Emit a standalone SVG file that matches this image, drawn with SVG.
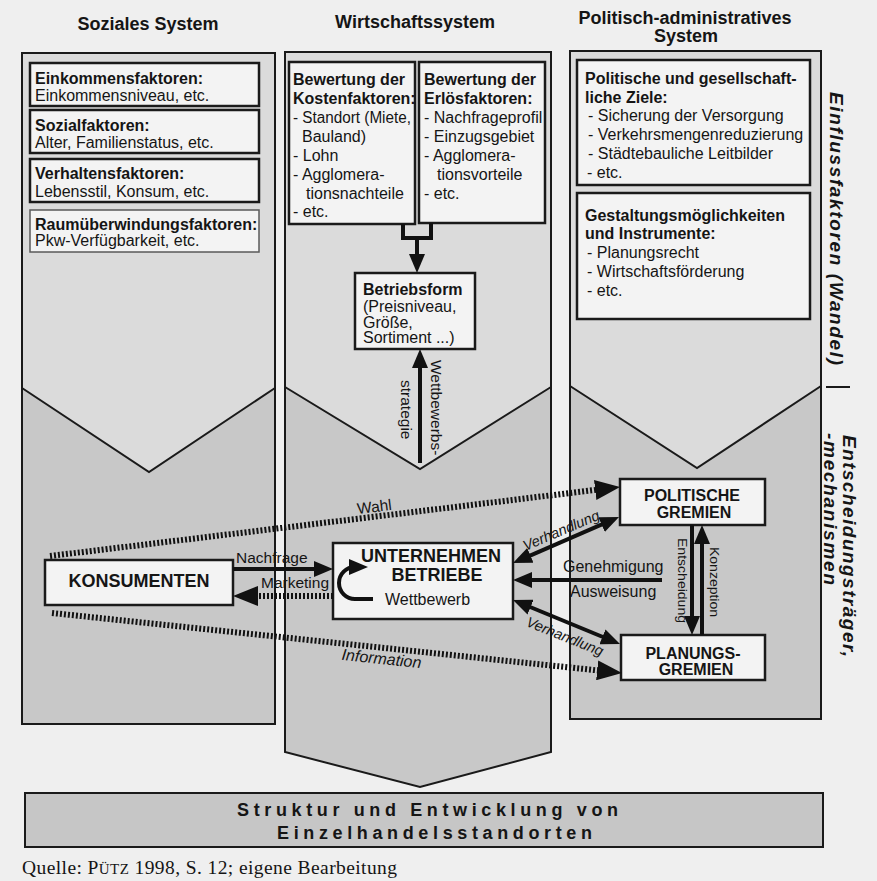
<svg xmlns="http://www.w3.org/2000/svg" width="877" height="881" viewBox="0 0 877 881">
<style>
  text{font-family:"Liberation Sans",Arial,Helvetica,sans-serif;fill:#151515}
  .t{font-size:16px}
  .b{font-weight:bold}
  .h{font-size:18px;font-weight:bold}
  .cap{font-size:16px;font-weight:bold}
  .lab{font-size:15.5px}
  .it{font-style:italic}
  .sm{font-size:13px}
  .side{font-size:19px;font-weight:bold;font-style:italic}
  text.src{font-family:"Liberation Serif","Times New Roman",serif;font-size:19.5px}
  .lo{fill:#c8c8c8}
  .up{fill:#dbdbdb}
  .edge{fill:none;stroke:#1a1a1a;stroke-width:2}
  .box{fill:#f3f3f3;stroke:#1a1a1a;stroke-width:2.5}
  .box2{fill:#f3f3f3;stroke:#5a5a5a;stroke-width:1.5}
  .sol{fill:none;stroke:#111;stroke-width:4}
  .dot{fill:none;stroke:#111;stroke-width:6;stroke-dasharray:2 2}
</style>
<defs>
  <marker id="ah" markerUnits="userSpaceOnUse" markerWidth="20" markerHeight="16" refX="11" refY="8" orient="auto-start-reverse">
    <path d="M0,0 L19,8 L0,16 z" fill="#111"/>
  </marker>
  <marker id="ahd" markerUnits="userSpaceOnUse" markerWidth="26" markerHeight="20" refX="13" refY="10" orient="auto-start-reverse">
    <path d="M0,0 L25,10 L0,20 z" fill="#111"/>
  </marker>
</defs>

<rect x="0" y="0" width="877" height="881" fill="#efefef"/>

<!-- Column: Soziales System -->
<g id="col-sozial">
  <text class="h" x="148" y="30" text-anchor="middle">Soziales System</text>
  <rect class="lo" x="22" y="53" width="253" height="671"/>
  <polygon class="up" points="22,53 275,53 275,388 149,472 22,388"/>
  <polyline class="edge" points="22,388 149,472 275,388"/>
  <rect class="edge" x="22" y="53" width="253" height="671"/>
</g>

<!-- Column: Wirtschaftssystem -->
<g id="col-wirtschaft">
  <text class="h" x="415" y="28" text-anchor="middle">Wirtschaftssystem</text>
  <polygon class="lo" points="285,52 551,52 551,752 420,787 285,752"/>
  <polygon class="up" points="285,52 551,52 551,387 420,469 285,387"/>
  <polyline class="edge" points="285,387 420,469 551,387"/>
  <polygon class="edge" points="285,52 551,52 551,752 420,787 285,752"/>
</g>

<!-- Column: Politisch-administratives System -->
<g id="col-politik">
  <text class="h" x="685" y="23.5" font-size="17.5" text-anchor="middle">Politisch-administratives</text>
  <text class="h" x="686" y="42" font-size="17.5" text-anchor="middle">System</text>
  <rect class="lo" x="570" y="51" width="251" height="668"/>
  <polygon class="up" points="570,51 821,51 821,386 697,468 570,386"/>
  <polyline class="edge" points="570,386 697,468 821,386"/>
  <rect class="edge" x="570" y="51" width="251" height="668"/>
</g>

<!-- Left column factor boxes -->
<g id="einkommen">
  <rect class="box" x="30" y="63" width="229" height="43"/>
  <text class="t b" x="35" y="84">Einkommensfaktoren:</text>
  <text class="t" x="35" y="101">Einkommensniveau, etc.</text>
</g>
<g id="sozial">
  <rect class="box" x="30" y="110" width="229" height="43"/>
  <text class="t b" x="35" y="131">Sozialfaktoren:</text>
  <text class="t" x="35" y="148">Alter, Familienstatus, etc.</text>
</g>
<g id="verhalten">
  <rect class="box" x="30" y="159" width="229" height="43"/>
  <text class="t b" x="35" y="179">Verhaltensfaktoren:</text>
  <text class="t" x="35" y="197">Lebensstil, Konsum, etc.</text>
</g>
<g id="raum">
  <rect class="box2" x="30" y="210" width="229" height="42"/>
  <text class="t b" x="35" y="230">Raumüberwindungsfaktoren:</text>
  <text class="t" x="35" y="246">Pkw-Verfügbarkeit, etc.</text>
</g>

<!-- Middle column boxes -->
<g id="kosten">
  <rect class="box" x="289" y="62" width="126" height="162"/>
  <text class="t b" x="293" y="85">Bewertung der</text>
  <text class="t b" x="293" y="104">Kostenfaktoren:</text>
  <text class="t" x="293" y="123" textLength="118" lengthAdjust="spacingAndGlyphs">- Standort (Miete,</text>
  <text class="t" x="302" y="142">Bauland)</text>
  <text class="t" x="293" y="161">- Lohn</text>
  <text class="t" x="293" y="180">- Agglomera-</text>
  <text class="t" x="306" y="199">tionsnachteile</text>
  <text class="t" x="293" y="217">- etc.</text>
</g>
<g id="erloes">
  <rect class="box" x="419" y="62" width="126" height="161"/>
  <text class="t b" x="424" y="85">Bewertung der</text>
  <text class="t b" x="424" y="104">Erlösfaktoren:</text>
  <text class="t" x="424" y="123">- Nachfrageprofil</text>
  <text class="t" x="424" y="142">- Einzugsgebiet</text>
  <text class="t" x="424" y="161">- Agglomera-</text>
  <text class="t" x="437" y="180">tionsvorteile</text>
  <text class="t" x="424" y="199">- etc.</text>
</g>
<g id="betriebsform">
  <rect class="box" x="355" y="273" width="120" height="76"/>
  <text class="t b" x="363" y="295">Betriebsform</text>
  <text class="t" font-size="15" x="363" y="312">(Preisniveau,</text>
  <text class="t" font-size="15" x="363" y="327.5">Größe,</text>
  <text class="t" font-size="15" x="363" y="343">Sortiment ...)</text>
</g>

<!-- Right column boxes -->
<g id="ziele">
  <rect class="box" x="577" y="60" width="233" height="125"/>
  <text class="t b" x="585" y="84">Politische und gesellschaft-</text>
  <text class="t b" x="585" y="103">liche Ziele:</text>
  <text class="t" x="588" y="121">- Sicherung der Versorgung</text>
  <text class="t" x="588" y="140">- Verkehrsmengenreduzierung</text>
  <text class="t" x="588" y="159">- Städtebauliche Leitbilder</text>
  <text class="t" x="587" y="178">- etc.</text>
</g>
<g id="instrumente">
  <rect class="box" x="577" y="193" width="233" height="126"/>
  <text class="t b" x="585" y="221">Gestaltungsmöglichkeiten</text>
  <text class="t b" x="585" y="239">und Instrumente:</text>
  <text class="t" x="587" y="258">- Planungsrecht</text>
  <text class="t" x="587" y="277">- Wirtschaftsförderung</text>
  <text class="t" x="587" y="296">- etc.</text>
</g>

<!-- Actors -->
<g id="konsumenten">
  <rect class="box" x="45" y="560" width="188" height="45"/>
  <text class="h" x="139" y="587" text-anchor="middle">KONSUMENTEN</text>
</g>
<g id="unternehmen">
  <rect class="box" x="333" y="543" width="180" height="76"/>
  <text class="h" font-size="17" x="431" y="561.5" text-anchor="middle">UNTERNEHMEN</text>
  <text class="h" font-size="17" x="437" y="581" text-anchor="middle">BETRIEBE</text>
  <text class="t" x="385" y="605">Wettbewerb</text>
  <path class="sol" d="M373,599 H355 A16,16 0 0 1 355,567 H360" stroke-width="3.5" marker-end="url(#ah)"/>
</g>
<g id="politische-gremien">
  <rect class="box" x="620" y="479" width="145" height="46"/>
  <text class="cap" x="692" y="501" text-anchor="middle">POLITISCHE</text>
  <text class="cap" x="694" y="518" text-anchor="middle">GREMIEN</text>
</g>
<g id="planungs-gremien">
  <rect class="box" x="621" y="635" width="144" height="45"/>
  <text class="cap" x="693" y="659" text-anchor="middle">PLANUNGS-</text>
  <text class="cap" x="696" y="675" text-anchor="middle">GREMIEN</text>
</g>

<!-- Bottom result box -->
<g id="struktur">
  <rect x="25" y="793" width="798" height="54" fill="#c6c6c6" stroke="#1a1a1a" stroke-width="2"/>
  <text class="b" font-size="18" x="237" y="816" textLength="381" lengthAdjust="spacing">Struktur und Entwicklung von</text>
  <text class="b" font-size="18" x="277" y="839" textLength="315" lengthAdjust="spacing">Einzelhandelsstandorten</text>
</g>

<!-- Side labels -->
<g id="side-labels">
  <text class="side" transform="translate(830,92) rotate(90)" textLength="273" lengthAdjust="spacing">Einflussfaktoren (Wandel)</text>
  <line x1="826" y1="387" x2="850" y2="387" stroke="#1a1a1a" stroke-width="2"/>
  <text class="side" transform="translate(843,435) rotate(90)" textLength="222" lengthAdjust="spacing">Entscheidungsträger,</text>
  <text class="side" transform="translate(824,433) rotate(90)" textLength="152" lengthAdjust="spacing">-mechanismen</text>
</g>

<!-- Connectors -->
<g id="connectors">
  <path class="sol" d="M403,224 V238 H431 V223" stroke-width="3.5"/>
  <line class="sol" x1="417" y1="238" x2="417" y2="265" marker-end="url(#ah)"/>
  <line class="sol" x1="420" y1="463" x2="420" y2="357" marker-end="url(#ah)"/>
  <text class="lab" transform="translate(431,360) rotate(90)">Wettbewerbs-</text>
  <text class="lab" transform="translate(401,380) rotate(90)">strategie</text>

  <line class="sol" x1="233" y1="569" x2="325" y2="569" stroke-width="3" marker-end="url(#ah)"/>
  <text class="lab" x="236" y="563">Nachfrage</text>
  <line class="dot" x1="333" y1="596" x2="245" y2="596" marker-end="url(#ahd)"/>
  <text class="lab" x="261" y="588">Marketing</text>

  <line class="dot" x1="50" y1="556" x2="608.1" y2="488.4" marker-end="url(#ahd)"/>
  <text class="lab" transform="translate(375,512) rotate(-6.9)" text-anchor="middle">Wahl</text>
  <line class="dot" x1="52" y1="613" x2="610.1" y2="671.7" marker-end="url(#ahd)"/>
  <text class="t it" transform="translate(381,664) rotate(6)" text-anchor="middle">Information</text>

  <line class="sol" x1="520.3" y1="559.8" x2="611.7" y2="520.2" stroke-width="4.5" marker-start="url(#ah)" marker-end="url(#ah)"/>
  <text class="it" font-size="14.5" transform="translate(563,535) rotate(-23)" text-anchor="middle">Verhandlung</text>
  <line class="sol" x1="520.4" y1="603" x2="612.6" y2="641" stroke-width="4.5" marker-start="url(#ah)" marker-end="url(#ah)"/>
  <text class="it" font-size="14.5" transform="translate(563,641) rotate(22)" text-anchor="middle">Verhandlung</text>

  <line class="sol" x1="662" y1="580" x2="521" y2="580" marker-end="url(#ah)"/>
  <text class="t" x="563" y="572">Genehmigung</text>
  <text class="t" x="570" y="597">Ausweisung</text>

  <line class="sol" x1="692" y1="525" x2="692" y2="627" stroke-width="3" marker-end="url(#ah)"/>
  <text class="sm" transform="translate(678,538) rotate(90)" textLength="85" lengthAdjust="spacingAndGlyphs">Entscheidung</text>
  <line class="sol" x1="702" y1="635" x2="702" y2="533" stroke-width="3" marker-end="url(#ah)"/>
  <text class="sm" transform="translate(710,547) rotate(90)" textLength="70" lengthAdjust="spacingAndGlyphs">Konzeption</text>
</g>

<!-- Source -->
<text class="src" x="22" y="874" textLength="375" lengthAdjust="spacing">Quelle: P<tspan font-size="15">ÜTZ</tspan> 1998, S. 12; eigene Bearbeitung</text>
</svg>
